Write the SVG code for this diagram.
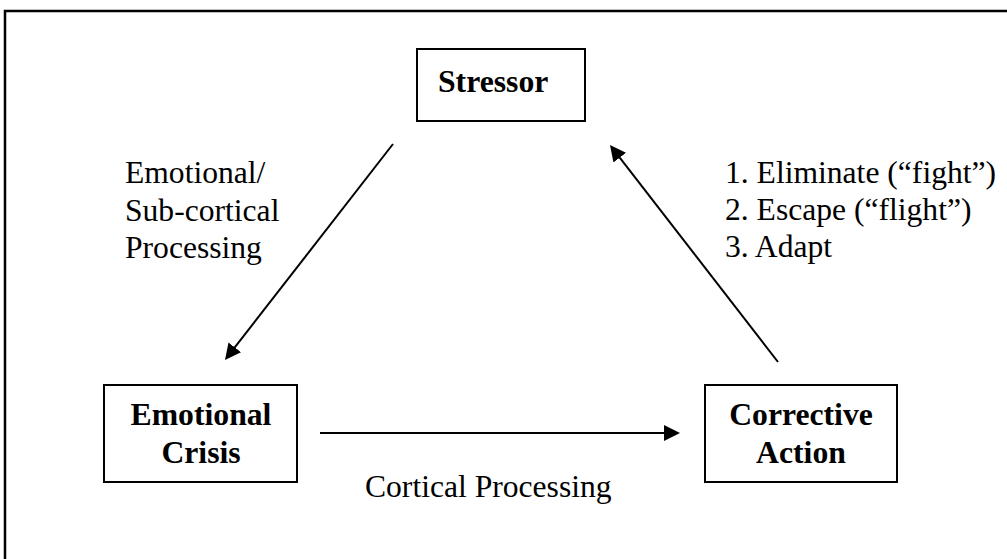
<svg xmlns="http://www.w3.org/2000/svg" width="1007" height="559" viewBox="0 0 1007 559">
<style>
.box{fill:#fff;stroke:#000;stroke-width:2}
.bold{font-family:"Liberation Serif","Times New Roman",serif;font-size:31.7px;font-weight:bold;fill:#000}
.lbl{font-family:"Liberation Serif","Times New Roman",serif;font-size:31.6px;fill:#000}
.conn{stroke:#000;stroke-width:2;fill:none;marker-end:url(#arr)}
</style>
<defs>
<marker id="arr" markerUnits="userSpaceOnUse" markerWidth="16" markerHeight="16" refX="8" refY="8" orient="auto">
<path d="M0,0 L16,8 L0,16 Z" fill="#000"/>
</marker>
</defs>
<rect width="1007" height="559" fill="#fff"/>
<path d="M5,559 V11 H1007" fill="none" stroke="#000" stroke-width="2.5"/>
<g id="stressor">
<rect class="box" x="417" y="49" width="168" height="72"/>
<text class="bold" x="438" y="92">Stressor</text>
</g>
<g id="emotional-crisis">
<rect class="box" x="104" y="385" width="193" height="97"/>
<text class="bold" x="201" y="425" text-anchor="middle">Emotional</text>
<text class="bold" x="201" y="463" text-anchor="middle">Crisis</text>
</g>
<g id="corrective-action">
<rect class="box" x="705" y="385" width="192" height="97"/>
<text class="bold" x="801" y="425" text-anchor="middle">Corrective</text>
<text class="bold" x="801" y="463" text-anchor="middle">Action</text>
</g>
<g id="connectors">
<line class="conn" x1="393" y1="144" x2="229.9" y2="353.7"/>
<line class="conn" x1="320" y1="433" x2="672" y2="433"/>
<line class="conn" x1="778" y1="362" x2="614.9" y2="151.3"/>
</g>
<g id="labels">
<text class="lbl" x="125" y="183">Emotional/</text>
<text class="lbl" x="125" y="221">Sub-cortical</text>
<text class="lbl" x="125" y="258">Processing</text>
<text class="lbl" x="725" y="183">1. Eliminate (“fight”)</text>
<text class="lbl" x="725" y="220">2. Escape (“flight”)</text>
<text class="lbl" x="725" y="257">3. Adapt</text>
<text class="lbl" x="365" y="497">Cortical Processing</text>
</g>
</svg>
